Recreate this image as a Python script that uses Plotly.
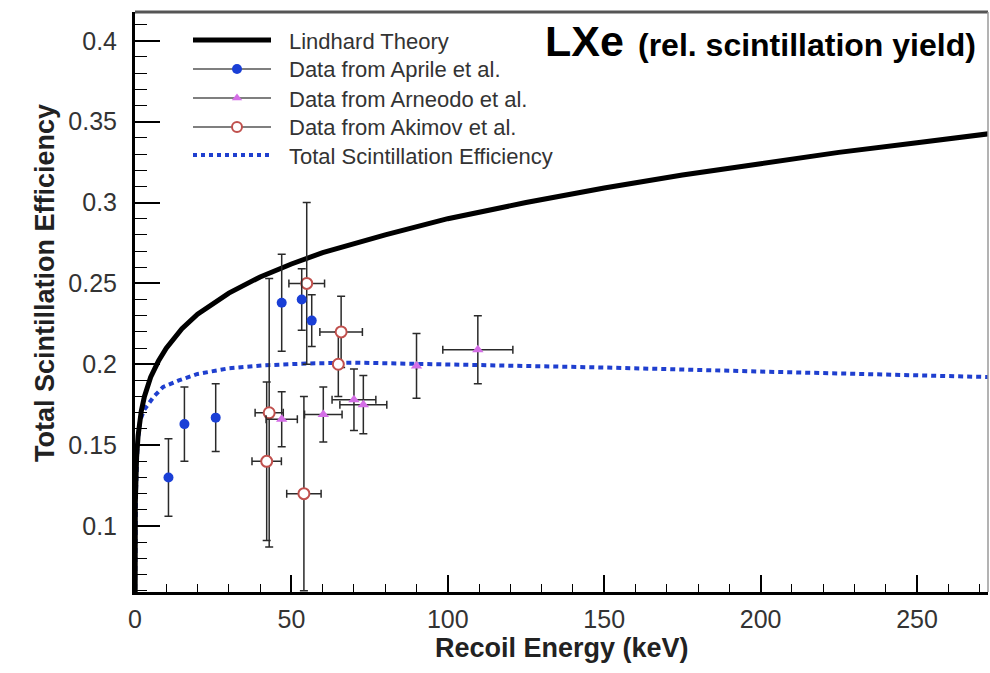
import plotly.graph_objects as go

# ---------------- data ----------------
lind_E = [0, 0.001, 0.01, 0.1, 0.5, 1, 2, 3, 5, 7.5, 10, 15, 20, 30, 40, 50, 60, 80,
          100, 125, 150, 175, 200, 225, 250, 275]
lind_y = [0.0, 0.060, 0.083, 0.114, 0.142, 0.156, 0.171, 0.180, 0.192, 0.202, 0.210,
          0.222, 0.231, 0.244, 0.254, 0.262, 0.269, 0.280, 0.290, 0.300, 0.309, 0.317,
          0.324, 0.331, 0.337, 0.343]

tot_E = [0, 0.3, 0.8, 1.6, 3, 6, 9, 14, 20, 30, 41, 55, 70, 100, 150, 200, 250, 275]
tot_y = [0.05, 0.12, 0.15, 0.165, 0.172, 0.180, 0.186, 0.190, 0.194, 0.1975, 0.1993,
         0.2005, 0.201, 0.200, 0.198, 0.1955, 0.1932, 0.192]

aprile_E = [10.7, 15.8, 25.8, 46.9, 53.3, 56.5]
aprile_y = [0.130, 0.163, 0.167, 0.238, 0.240, 0.227]
aprile_yerr = [0.024, 0.023, 0.021, 0.030, 0.019, 0.016]

arneodo_E = [46.9, 60.2, 70.0, 73.0, 90.0, 109.6]
arneodo_y = [0.166, 0.169, 0.178, 0.175, 0.199, 0.209]
arneodo_yerr = [0.017, 0.017, 0.019, 0.018, 0.020, 0.021]
arneodo_xerr = [5.0, 6.0, 7.0, 7.5, 0.0, 11.2]

akimov_E = [42.1, 42.9, 54.0, 54.9, 65.0, 65.9]
akimov_y = [0.140, 0.170, 0.120, 0.250, 0.200, 0.220]
akimov_yerr = [0.049, 0.083, 0.060, 0.050, 0.020, 0.022]
akimov_xerr = [4.7, 4.5, 5.5, 5.7, 0.0, 6.8]

x_ticks = [0, 50, 100, 150, 200, 250]
y_ticks = [0.1, 0.15, 0.2, 0.25, 0.3, 0.35, 0.4]

legend_names = ["Lindhard Theory", "Data from Aprile et al.", "Data from Arneodo et al.",
                "Data from Akimov et al.", "Total Scintillation Efficiency"]

# ---------------- styles ----------------
FONT = "Liberation Sans, Arial, Helvetica, sans-serif"
BLUE = "#1a3fd6"
DOT_BLUE = "#1f3fcf"
MAGENTA = "#d46ee6"
AKI = "#c0504d"
ERR = "#2a2a2a"

W, H = 990, 673
L, R, T, B = 135, 2, 12, 81
PW, PH = W - L - R, H - T - B


def px(xp):
    return (xp - L) / PW


def py(yp):
    return (H - B - yp) / PH


fig = go.Figure()

fig.add_trace(go.Scatter(x=tot_E, y=tot_y, mode="lines",
                         line=dict(color=DOT_BLUE, width=4, dash="5px,4px"),
                         showlegend=False, hoverinfo="skip"))
fig.add_trace(go.Scatter(x=lind_E, y=lind_y, mode="lines",
                         line=dict(color="black", width=5),
                         showlegend=False, hoverinfo="skip"))

err_style = dict(type="data", color=ERR, thickness=1.5, width=4)

fig.add_trace(go.Scatter(x=akimov_E, y=akimov_y, mode="markers",
                         marker=dict(symbol="circle", size=11, color="white",
                                     line=dict(color=AKI, width=2)),
                         error_y=dict(array=akimov_yerr, **err_style),
                         error_x=dict(array=akimov_xerr, **err_style),
                         showlegend=False))
fig.add_trace(go.Scatter(x=arneodo_E, y=arneodo_y, mode="markers",
                         marker=dict(symbol="triangle-up", size=10, color=MAGENTA),
                         error_y=dict(array=arneodo_yerr, **err_style),
                         error_x=dict(array=arneodo_xerr, **err_style),
                         showlegend=False))
fig.add_trace(go.Scatter(x=aprile_E, y=aprile_y, mode="markers",
                         marker=dict(symbol="circle", size=10, color=BLUE),
                         error_y=dict(array=aprile_yerr, **err_style),
                         showlegend=False))

# ---------------- hand-drawn legend on an overlay [0,1] axis ----------------
rows = [40, 69, 98, 127, 155]
lx0, lx1, lxm, ltx = 193, 271, 237, 287
leg_line = [dict(color="black", width=5), dict(color="#555", width=1.5),
            dict(color="#555", width=1.5), dict(color="#555", width=1.5),
            dict(color=DOT_BLUE, width=4, dash="4px,4px")]
leg_marker = [None,
              dict(symbol="circle", size=10, color=BLUE),
              dict(symbol="triangle-up", size=9, color=MAGENTA),
              dict(symbol="circle", size=10, color="white", line=dict(color=AKI, width=2)),
              None]
for i, yy in enumerate(rows):
    fig.add_trace(go.Scatter(x=[px(lx0), px(lx1)], y=[py(yy), py(yy)], mode="lines",
                             line=leg_line[i], xaxis="x2", yaxis="y2",
                             showlegend=False, hoverinfo="skip"))
    if leg_marker[i] is not None:
        fig.add_trace(go.Scatter(x=[px(lxm)], y=[py(yy)], mode="markers",
                                 marker=leg_marker[i], xaxis="x2", yaxis="y2",
                                 showlegend=False, hoverinfo="skip"))

annotations = []
for i, yy in enumerate(rows):
    annotations.append(dict(text=legend_names[i], x=px(ltx), y=py(yy + 1), xref="paper",
                            yref="paper", xanchor="left", yanchor="middle", showarrow=False,
                            font=dict(family=FONT, size=22, color="#333")))

annotations.append(dict(text="<b>LXe</b>", x=px(543), y=py(41), xref="paper", yref="paper",
                        xanchor="left", yanchor="middle", showarrow=False,
                        font=dict(family=FONT, size=43, color="black")))
annotations.append(dict(text="<b>(rel. scintillation yield)</b>", x=px(636), y=py(45),
                        xref="paper", yref="paper", xanchor="left", yanchor="middle",
                        showarrow=False, font=dict(family=FONT, size=32, color="black")))
annotations.append(dict(text="<b>Total Scintillation Efficiency</b>", x=px(45), y=py(283),
                        xref="paper", yref="paper", xanchor="center", yanchor="middle",
                        textangle=-90, showarrow=False,
                        font=dict(family=FONT, size=27, color="#222")))
annotations.append(dict(text="<b>Recoil Energy (keV)</b>", x=px(562), y=py(648),
                        xref="paper", yref="paper", xanchor="center", yanchor="middle",
                        showarrow=False, font=dict(family=FONT, size=27, color="#222")))

shapes = [
    dict(type="line", xref="paper", yref="paper", x0=0, x1=1, y0=1, y1=1,
         line=dict(color="#555", width=3)),
    dict(type="line", xref="paper", yref="paper", x0=1, x1=1, y0=0, y1=1,
         line=dict(color="#9a9a9a", width=1.5)),
]

fig.update_layout(
    width=W, height=H,
    margin=dict(l=L, r=R, t=T, b=B, pad=0),
    paper_bgcolor="white", plot_bgcolor="white",
    showlegend=False,
    annotations=annotations, shapes=shapes,
    xaxis=dict(range=[0, 272.7], showgrid=False, zeroline=False,
               showline=True, linecolor="black", linewidth=2.5,
               ticks="inside", ticklen=17, tickwidth=1.5, tickcolor="black",
               tickvals=x_ticks, ticktext=[str(v) for v in x_ticks],
               minor=dict(ticks="inside", dtick=10, tick0=0, ticklen=8, tickwidth=1.2,
                          tickcolor="black", showgrid=False),
               tickfont=dict(family=FONT, size=25, color="#333"),
               ticklabelstandoff=3),
    yaxis=dict(range=[0.0592, 0.4178], showgrid=False, zeroline=False,
               showline=True, linecolor="black", linewidth=3,
               ticks="inside", ticklen=25, tickwidth=1.5, tickcolor="black",
               tickvals=y_ticks, ticktext=[f"{v:g}" for v in y_ticks],
               minor=dict(ticks="inside", dtick=0.01, tick0=0, ticklen=12, tickwidth=1.2,
                          tickcolor="black", showgrid=False),
               tickfont=dict(family=FONT, size=25, color="#333"),
               ticklabelstandoff=10),
    xaxis2=dict(overlaying="x", range=[0, 1], visible=False, fixedrange=True),
    yaxis2=dict(overlaying="y", range=[0, 1], visible=False, fixedrange=True),
)

fig.write_html("out.html")
